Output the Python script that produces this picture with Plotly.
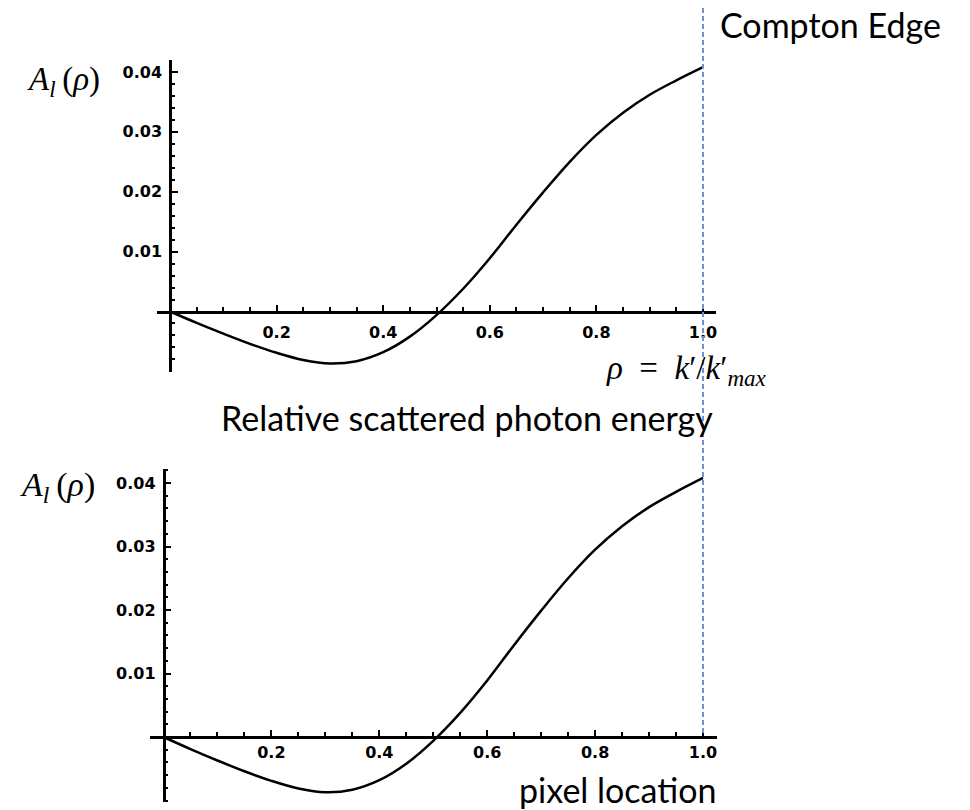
import plotly.graph_objects as go

# ---- data ----
rho = [0.00, 0.05, 0.10, 0.15, 0.20, 0.25, 0.30, 0.35, 0.40, 0.45, 0.50,
       0.55, 0.60, 0.65, 0.70, 0.75, 0.80, 0.85, 0.90, 0.95, 1.00]
asym_top = [0.0, -0.0019, -0.0037, -0.0054, -0.0069, -0.0081, -0.0087, -0.0083,
            -0.0068, -0.0042, -0.0006, 0.0038, 0.0089, 0.0145, 0.0199, 0.0250,
            0.0295, 0.0332, 0.0362, 0.0386, 0.0408]
asym_bottom = [0.0, -0.0019, -0.0037, -0.0054, -0.0069, -0.0081, -0.0087, -0.0083,
               -0.0068, -0.0042, -0.0006, 0.0038, 0.0089, 0.0145, 0.0199, 0.0250,
               0.0295, 0.0332, 0.0362, 0.0386, 0.0408]
x_tick_vals = [0.2, 0.4, 0.6, 0.8, 1.0]
y_tick_vals = [0.01, 0.02, 0.03, 0.04]
compton_edge = 1.0

# page: 970x810 window, body has an 8px margin at left/top
OFF = 8
W, H = 970 - OFF, 810 - OFF


def P(px):  # window px -> paper x
    return (px - OFF) / W


def Q(py):  # window py -> paper y
    return 1 - (py - OFF) / H


TICKFONT = dict(family="DejaVu Sans", size=16, color="black", weight="bold")

fig = go.Figure()
for ys, xa, ya in [(asym_top, "x", "y"), (asym_bottom, "x2", "y2")]:
    fig.add_trace(go.Scatter(x=rho, y=ys, mode="lines", xaxis=xa, yaxis=ya,
                             line=dict(color="black", width=2.5, shape="spline", smoothing=1.0),
                             showlegend=False, hoverinfo="skip"))


def axis_pair(xdom, ydom, xr, yr, xstand):
    xpos = ydom[0] + (0 - yr[0]) / (yr[1] - yr[0]) * (ydom[1] - ydom[0])
    ypos = xdom[0] + (0 - xr[0]) / (xr[1] - xr[0]) * (xdom[1] - xdom[0])
    common = dict(showline=True, linecolor="black", linewidth=2.5,
                  showgrid=False, zeroline=False, automargin=False,
                  tickmode="array", ticks="inside", ticklen=6, tickwidth=2,
                  tickcolor="black", tickfont=TICKFONT, fixedrange=True,
                  anchor="free")
    xa = dict(common, domain=xdom, range=xr, position=xpos,
              tickvals=x_tick_vals, tickformat=".1f", ticklabelstandoff=xstand,
              minor=dict(ticks="inside", tickmode="linear", tick0=0, dtick=0.05,
                         ticklen=4, tickwidth=2, tickcolor="black", showgrid=False))
    ya = dict(common, domain=ydom, range=yr, position=ypos,
              tickvals=y_tick_vals, tickformat=".2f", ticklabelstandoff=4,
              minor=dict(ticks="inside", tickmode="linear", tick0=0, dtick=0.002,
                         ticklen=3, tickwidth=2, tickcolor="black", showgrid=False))
    return xa, ya


# top panel (pixel geometry of the reference)
x1, y1 = axis_pair([P(157), P(716)], [Q(372), Q(60)],
                   [(157 - 170) / 533, (716 - 170) / 533],
                   [-(372 - 311.5) / 5987.5, (311.5 - 60) / 5987.5], 6)
# bottom panel
x2, y2 = axis_pair([P(150), P(717)], [Q(802), Q(469)],
                   [(150 - 163.5) / 539.5, (717 - 163.5) / 539.5],
                   [-(802 - 737) / 6350, (737 - 469) / 6350], 0)

SERIF = "Liberation Serif"
SANS = "Lato"


def ann(text, cx, cy, family, size):
    return dict(text=text, x=P(cx), y=Q(cy), xref="paper", yref="paper",
                xanchor="center", yanchor="middle", showarrow=False,
                font=dict(family=family, size=size, color="black"))


A_LABEL = "<i>A</i><sub><i>l</i></sub>\u2009(<i>ρ</i>)"
RHO_LABEL = "<i>ρ</i>\u2002=\u2002<i>k</i>′/<i>k</i>′<sub><i>max</i></sub>"

annotations = [
    ann("Compton Edge", 830, 25, SANS, 34),
    ann("Relative scattered photon energy", 467, 417, SANS, 34),
    ann("pixel location", 617, 789, SANS, 34),
    ann(A_LABEL, 63, 81, SERIF, 33),
    ann(A_LABEL, 57, 487, SERIF, 34),
    ann(RHO_LABEL, 686, 371, SERIF, 33),
]

fig.update_layout(
    width=W, height=H, autosize=False,
    margin=dict(l=0, r=0, t=0, b=0),
    paper_bgcolor="white", plot_bgcolor="rgba(0,0,0,0)",
    xaxis=x1, yaxis=y1, xaxis2=x2, yaxis2=y2,
    annotations=annotations,
    shapes=[dict(type="line", xref="x", x0=compton_edge, x1=compton_edge,
                 yref="paper", y0=Q(733), y1=Q(6),
                 line=dict(color="#6C93D6", width=2, dash="5px,3px"))],
    showlegend=False,
)

fig.write_html("out.html")
